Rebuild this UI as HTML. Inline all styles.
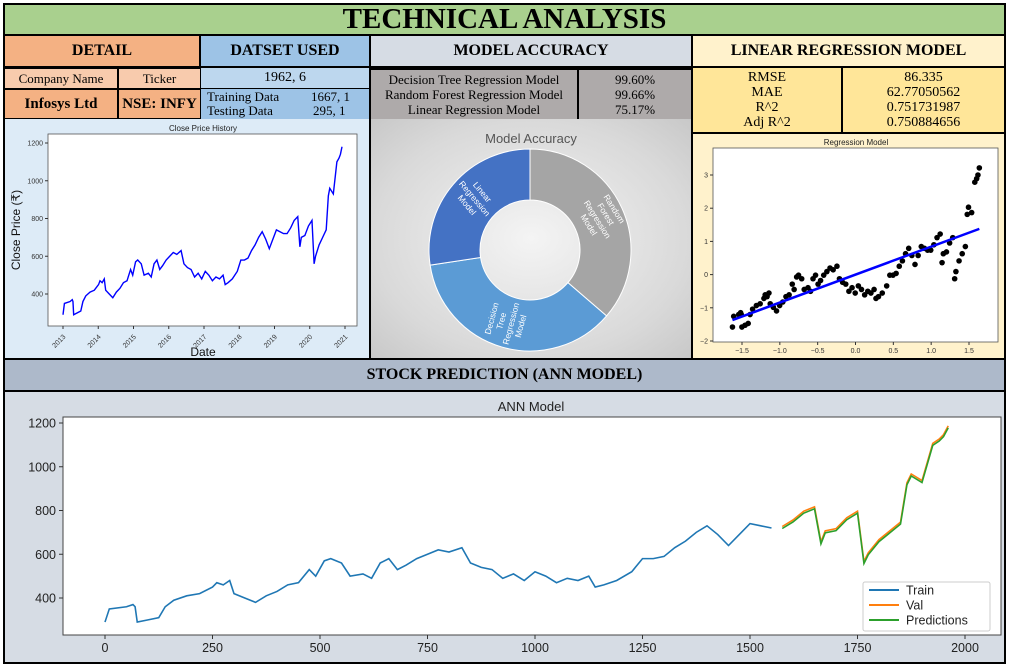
<!DOCTYPE html>
<html><head><meta charset="utf-8"><style>
body{margin:0;width:1011px;height:668px;background:#fff;position:relative;overflow:hidden;font-family:"Liberation Serif",serif}
.c{position:absolute;box-sizing:border-box;display:flex;align-items:center;justify-content:center;text-align:center;color:#000}
.b{font-weight:bold}
svg{position:absolute;left:0;top:0}
</style></head><body>
<div class="c b" style="left:3px;top:3px;width:1003px;height:33px;background:#a9d08e;font-size:29px;border:2px solid #000">TECHNICAL ANALYSIS</div>
<div class="c b" style="left:3px;top:36px;width:198px;height:32px;background:#f4b183;font-size:16px;border:2px solid #000;border-top:0">DETAIL</div>
<div class="c b" style="left:201px;top:36px;width:170px;height:32px;background:#9dc3e6;font-size:16px;border:2px solid #000;border-top:0;border-left:0">DATSET USED</div>
<div class="c b" style="left:371px;top:36px;width:322px;height:32px;background:#d6dce4;font-size:16px;border:2px solid #000;border-top:0;border-left:0">MODEL ACCURACY</div>
<div class="c b" style="left:693px;top:36px;width:313px;height:32px;background:#fff2cc;font-size:16px;border:2px solid #000;border-top:0;border-left:0">LINEAR REGRESSION MODEL</div>
<div class="c" style="left:3px;top:68px;width:115px;height:21px;background:#f8cbad;font-size:13px;border:1px solid #000;border-left:2px solid #000">Company Name</div>
<div class="c" style="left:118px;top:68px;width:83px;height:21px;background:#f8cbad;font-size:13px;border:1px solid #000">Ticker</div>
<div class="c b" style="left:3px;top:89px;width:115px;height:30px;background:#f4b183;font-size:15px;border:1px solid #000;border-left:2px solid #000">Infosys Ltd</div>
<div class="c b" style="left:118px;top:89px;width:83px;height:30px;background:#f4b183;font-size:15px;border:1px solid #000">NSE: INFY</div>
<div class="c" style="left:201px;top:68px;width:170px;height:21px;background:#bdd7ee;font-size:14px;border-bottom:1px solid #000;border-right:2px solid #000">1962, 6</div>
<div class="c" style="left:201px;top:89px;width:170px;height:30px;background:#9dc3e6;font-size:13px;border-right:2px solid #000;display:block;text-align:left;line-height:14px;padding:1px 0 0 6px">Training Data<span style="position:absolute;left:110px">1667, 1</span><br>Testing Data<span style="position:absolute;left:112px">295, 1</span></div>
<div class="c" style="left:371px;top:68px;width:208px;height:51px;background:#aeaaaa;font-size:13px;line-height:15px;border-right:2px solid #000;border-top:2px solid #000">Decision Tree Regression Model<br>Random Forest Regression Model<br>Linear Regression Model</div>
<div class="c" style="left:579px;top:68px;width:114px;height:51px;background:#aeaaaa;font-size:13px;line-height:15px;border-right:2px solid #000;border-top:2px solid #000">99.60%<br>99.66%<br>75.17%</div>
<div class="c" style="left:693px;top:68px;width:150px;height:66px;background:#ffe699;font-size:14px;line-height:15px;border-right:2px solid #000;border-bottom:2px solid #000">RMSE<br>MAE<br>R^2<br>Adj R^2</div>
<div class="c" style="left:843px;top:68px;width:163px;height:66px;background:#ffe699;font-size:14px;line-height:15px;border-right:2px solid #000;border-bottom:2px solid #000">86.335<br>62.77050562<br>0.751731987<br>0.750884656</div>
<div class="c" style="left:3px;top:119px;width:368px;height:241px;background:#ddebf7;border:2px solid #000;border-top:0"></div>
<div class="c" style="left:371px;top:119px;width:322px;height:241px;background:radial-gradient(ellipse at center,#f4f4f4 0%,#d9d9d9 70%,#c8c8c8 100%);border:2px solid #000;border-top:0;border-left:0"></div>
<div class="c" style="left:693px;top:134px;width:313px;height:226px;background:#fff2cc;border:2px solid #000;border-top:0;border-left:0"></div>
<div class="c b" style="left:3px;top:360px;width:1003px;height:32px;background:#adb9ca;font-size:16px;border:2px solid #000;border-top:0">STOCK PREDICTION (ANN MODEL)</div>
<div class="c" style="left:3px;top:392px;width:1003px;height:272px;background:#d6dce4;border:2px solid #000;border-top:0"></div>
<svg id="s" width="1011" height="668" font-family="Liberation Sans, DejaVu Sans, sans-serif"></svg>
<script>
const idx=[0,10,50,65,70,75,100,125,140,160,190,220,250,260,275,290,300,325,350,375,400,425,450,475,490,510,525,550,570,600,620,640,660,680,700,725,750,775,800,830,850,875,900,925,950,975,1000,1025,1050,1075,1100,1125,1140,1160,1190,1225,1250,1275,1300,1325,1350,1375,1400,1425,1450,1475,1500,1525,1550,1575,1600,1625,1650,1665,1675,1700,1725,1750,1765,1775,1800,1825,1850,1865,1875,1900,1925,1940,1950,1961];
const price=[290,350,360,370,360,290,300,310,360,390,410,420,450,470,460,480,420,400,380,410,430,460,470,530,500,570,580,560,500,510,490,560,580,530,550,580,600,620,610,630,560,540,530,490,510,480,520,500,470,490,480,500,450,460,480,520,580,580,590,630,660,700,730,690,640,690,740,730,720,720,750,790,810,650,700,710,760,790,560,600,660,700,740,920,960,930,1100,1120,1140,1180];
const trainEnd=1570;
const yearTicks=[2013,2014,2015,2016,2017,2018,2019,2020,2021];
const closeYTicks=[400,600,800,1000,1200];
const annXTicks=[0,250,500,750,1000,1250,1500,1750,2000];
const annYTicks=[400,600,800,1000,1200];
const regXTicks=[-1.5,-1.0,-0.5,0.0,0.5,1.0,1.5];
const regYTicks=[-2,-1,0,1,2,3];
const modelNames=["Random Forest Regression Model","Decision Tree Regression Model","Linear Regression Model"];
const modelAcc=[99.66,99.60,75.17];
const S=document.getElementById('s');const NS='http://www.w3.org/2000/svg';
function mk(t,a,txt){const e=document.createElementNS(NS,t);for(const k in a)e.setAttribute(k,a[k]);if(txt!==undefined)e.textContent=txt;S.appendChild(e);return e;}
// close price chart
const cx=i=>63+(i/1961)*279, cy=v=>294-(v-400)*151/800, xYear=y=>63+(y-2013)*282/8;
let e=mk('rect',{x:48,y:134,width:309,height:192,fill:'#fff',stroke:'#555','stroke-width':0.8});

e=mk('text',{x:203,y:131,'font-size':8,'text-anchor':'middle',fill:'#222'},'Close Price History');

yearTicks.forEach(y=>{const x=xYear(y);mk('line',{x1:x,x2:x,y1:326,y2:329,stroke:'#333'});
e=mk('text',{x:x,y:336,'font-size':7,'text-anchor':'end',fill:'#333',transform:`rotate(-45 ${x+3} 333)`},y);
});
closeYTicks.forEach(v=>{const y=cy(v);mk('line',{x1:45,x2:48,y1:y,y2:y,stroke:'#333'});
e=mk('text',{x:43,y:y+2.5,'font-size':7,'text-anchor':'end',fill:'#333'},v);
});
e=mk('text',{x:203,y:356,'font-size':12,'text-anchor':'middle',fill:'#111'},'Date');

e=mk('text',{x:20,y:230,'font-size':12,'text-anchor':'middle',fill:'#111',transform:'rotate(-90 20 230)'},'Close Price (₹)');

e=mk('polyline',{points:idx.map((i,k)=>cx(i)+','+cy(price[k])).join(' '),fill:'none',stroke:'#0000ff','stroke-width':1.4});

// donut
e=mk('text',{x:531,y:143,'font-size':13,'text-anchor':'middle',fill:'#555'},'Model Accuracy');

const tot=modelAcc.reduce((a,b)=>a+b,0);const colors=['#a5a5a5','#5b9bd5','#4472c4'];
const labels=[["Random","Forest","Regression","Model"],["Decision","Tree","Regression","Model"],["Linear","Regression","Model"]];
const rot=[58,-75,50];
let ang=0;const ox=530,oy=250,R=101,r=50;
modelAcc.forEach((v,k)=>{const a0=ang,a1=ang+v/tot*2*Math.PI;ang=a1;const p=(a,rr)=>[ox+rr*Math.sin(a),oy-rr*Math.cos(a)];
const [x0,y0]=p(a0,R),[x1,y1]=p(a1,R),[x2,y2]=p(a1,r),[x3,y3]=p(a0,r);const lg=(a1-a0)>Math.PI?1:0;
e=mk('path',{d:`M${x0},${y0}A${R},${R} 0 ${lg} 1 ${x1},${y1}L${x2},${y2}A${r},${r} 0 ${lg} 0 ${x3},${y3}Z`,fill:colors[k],stroke:'#fff','stroke-width':1});

const am=(a0+a1)/2,[lx,ly]=p(am,76);const g=mk('text',{x:lx,y:ly-(labels[k].length-1)*5,'font-size':8.5,fill:'#fff','text-anchor':'middle',transform:`rotate(${rot[k]} ${lx} ${ly})`});

labels[k].forEach((t,j)=>{const ts=document.createElementNS(NS,'tspan');ts.setAttribute('x',lx);ts.setAttribute('dy',j?10:0);ts.textContent=t;g.appendChild(ts);});});
// regression
const rx=v=>742+(v+1.5)*227/3, ry=v=>341-(v+2)*166/5;
e=mk('rect',{x:713,y:148,width:285,height:194,fill:'#fff',stroke:'#555','stroke-width':0.8});

e=mk('text',{x:856,y:145,'font-size':8,'text-anchor':'middle',fill:'#222'},'Regression Model');

regXTicks.forEach(v=>{const x=rx(v);mk('line',{x1:x,x2:x,y1:342,y2:345,stroke:'#333'});
e=mk('text',{x:x,y:353,'font-size':7,'text-anchor':'middle',fill:'#333'},v.toFixed(1).replace('-','−'));
});
regYTicks.forEach(v=>{const y=ry(v);mk('line',{x1:710,x2:713,y1:y,y2:y,stroke:'#333'});
e=mk('text',{x:708,y:y+2.5,'font-size':7,'text-anchor':'end',fill:'#333'},String(v).replace('-','−'));
});
const n=idx.length,mi=idx.reduce((a,b)=>a+b)/n,mp=price.reduce((a,b)=>a+b)/n;
const si=Math.sqrt(idx.reduce((a,b)=>a+(b-mi)**2,0)/n),sp=Math.sqrt(price.reduce((a,b)=>a+(b-mp)**2,0)/n);
const zx=idx.map(i=>(i-mi)/si),zy=price.map(p=>(p-mp)/sp);
zx.forEach((x,k)=>{e=mk('circle',{cx:rx(x),cy:ry(zy[k]),r:2.8,fill:'#000'});});
const slope=zx.reduce((a,x,k)=>a+x*zy[k],0)/n;const xmin=Math.min(...zx),xmax=Math.max(...zx);
e=mk('line',{x1:rx(xmin),y1:ry(slope*xmin),x2:rx(xmax),y2:ry(slope*xmax),stroke:'#0000ff','stroke-width':2.5});

// ANN
const ax=i=>105+i*860/2000, ay=v=>598-(v-400)*175/800;
e=mk('rect',{x:63,y:417,width:938,height:218,fill:'#fff',stroke:'#444','stroke-width':1});

e=mk('text',{x:531,y:411,'font-size':13,'text-anchor':'middle',fill:'#222'},'ANN Model');

annXTicks.forEach(v=>{const x=ax(v);mk('line',{x1:x,x2:x,y1:635,y2:639,stroke:'#333'});
e=mk('text',{x:x,y:652,'font-size':12.5,'text-anchor':'middle',fill:'#222'},v);
});
annYTicks.forEach(v=>{const y=ay(v);mk('line',{x1:59,x2:63,y1:y,y2:y,stroke:'#333'});
e=mk('text',{x:56,y:y+4.5,'font-size':12.5,'text-anchor':'end',fill:'#222'},v);
});
const tr=[],va=[];idx.forEach((i,k)=>{if(i<=trainEnd)tr.push([i,price[k]]);if(i>=trainEnd-5)va.push([i,price[k]]);});
e=mk('polyline',{points:tr.map(p=>ax(p[0])+','+ay(p[1])).join(' '),fill:'none',stroke:'#1f77b4','stroke-width':1.6});

e=mk('polyline',{points:va.map(p=>ax(p[0])+','+(ay(p[1])-1.5)).join(' '),fill:'none',stroke:'#ff7f0e','stroke-width':1.6});

e=mk('polyline',{points:va.map(p=>ax(p[0])+','+(ay(p[1])+0.5)).join(' '),fill:'none',stroke:'#2ca02c','stroke-width':1.6});

e=mk('rect',{x:863,y:582,width:127,height:49,fill:'#fff',stroke:'#ccc',rx:2});

[['Train','#1f77b4'],['Val','#ff7f0e'],['Predictions','#2ca02c']].forEach((l,k)=>{const y=590+k*15;
mk('line',{x1:869,x2:899,y1:y,y2:y,stroke:l[1],'stroke-width':2});
e=mk('text',{x:906,y:y+4.5,'font-size':12.5,fill:'#222'},l[0]);
});
</script>
</body></html>
